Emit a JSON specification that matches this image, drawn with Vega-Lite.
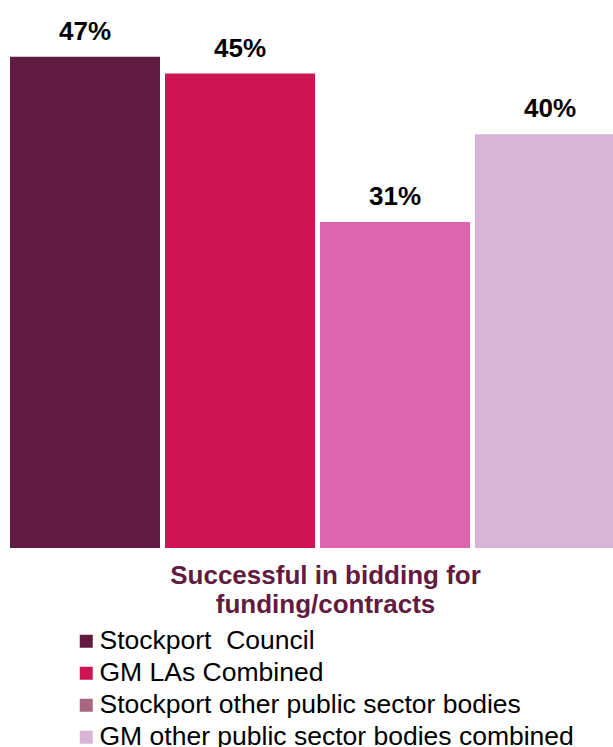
{
  "$schema": "https://vega.github.io/schema/vega-lite/v6.json",
  "width": 613,
  "height": 548,
  "autosize": {"type": "none"},
  "padding": {"top": 0, "left": 0, "right": 0, "bottom": 199},
  "background": "white",
  "config": {
    "view": {"stroke": null},
    "font": "Liberation Sans"
  },
  "data": {
    "values": [
      {"group": "Stockport\u00a0 Council", "value": 47.0, "label": "47%"},
      {"group": "GM LAs Combined", "value": 45.4, "label": "45%"},
      {"group": "Stockport other public sector bodies", "value": 31.2, "label": "31%"},
      {"group": "GM other public sector bodies combined", "value": 39.6, "label": "40%"}
    ]
  },
  "encoding": {
    "x": {
      "field": "group",
      "type": "nominal",
      "sort": null,
      "scale": {"range": [10, 625], "paddingInner": 0.0323, "paddingOuter": 0},
      "axis": {
        "labels": false,
        "ticks": false,
        "domain": false,
        "grid": false,
        "title": ["Successful in bidding for", "funding/contracts"],
        "titleFontSize": 26,
        "titleFontWeight": "bold",
        "titleColor": "#621B40",
        "titleFont": "Liberation Sans",
        "titleX": 325,
        "titleY": 35,
        "titleAlign": "center",
        "titleAnchor": null,
        "titleBaseline": "alphabetic",
        "titleLineHeight": 29,
        "titlePadding": 0
      }
    },
    "y": {
      "field": "value",
      "type": "quantitative",
      "scale": {"domain": [0, 52.44], "nice": false, "zero": true},
      "axis": null
    }
  },
  "resolve": {"scale": {"color": "independent"}, "legend": {"color": "independent"}},
  "layer": [
    {
      "mark": {"type": "bar", "clip": true},
      "encoding": {
        "color": {
          "field": "group",
          "type": "nominal",
          "sort": null,
          "scale": {"range": ["#621B40", "#CE1452", "#DF64AE", "#D7B3D7"]},
          "legend": null
        }
      }
    },
    {
      "mark": {"type": "bar", "clip": true, "opacity": 0},
      "encoding": {
        "color": {
          "field": "group",
          "type": "nominal",
          "sort": null,
          "scale": {"range": ["#621B40", "#CE1452", "#A8657F", "#D7B3D7"]},
          "legend": {
            "title": null,
            "orient": "none",
            "direction": "vertical",
            "legendX": 73,
            "legendY": 628,
            "padding": 0,
            "symbolType": "square",
            "symbolSize": 169,
            "symbolStrokeWidth": 0,
            "symbolOpacity": 1,
            "labelFontSize": 26.5,
            "labelFont": "Liberation Sans",
            "labelColor": "#000000",
            "labelLimit": 600,
            "labelOffset": 0,
            "rowPadding": 5
          }
        }
      }
    },
    {
      "mark": {
        "type": "text",
        "fontSize": 26,
        "fontWeight": "bold",
        "font": "Liberation Sans",
        "color": "#000000",
        "baseline": "alphabetic",
        "align": "center",
        "dy": -17
      },
      "encoding": {
        "text": {"field": "label"}
      }
    }
  ]
}
